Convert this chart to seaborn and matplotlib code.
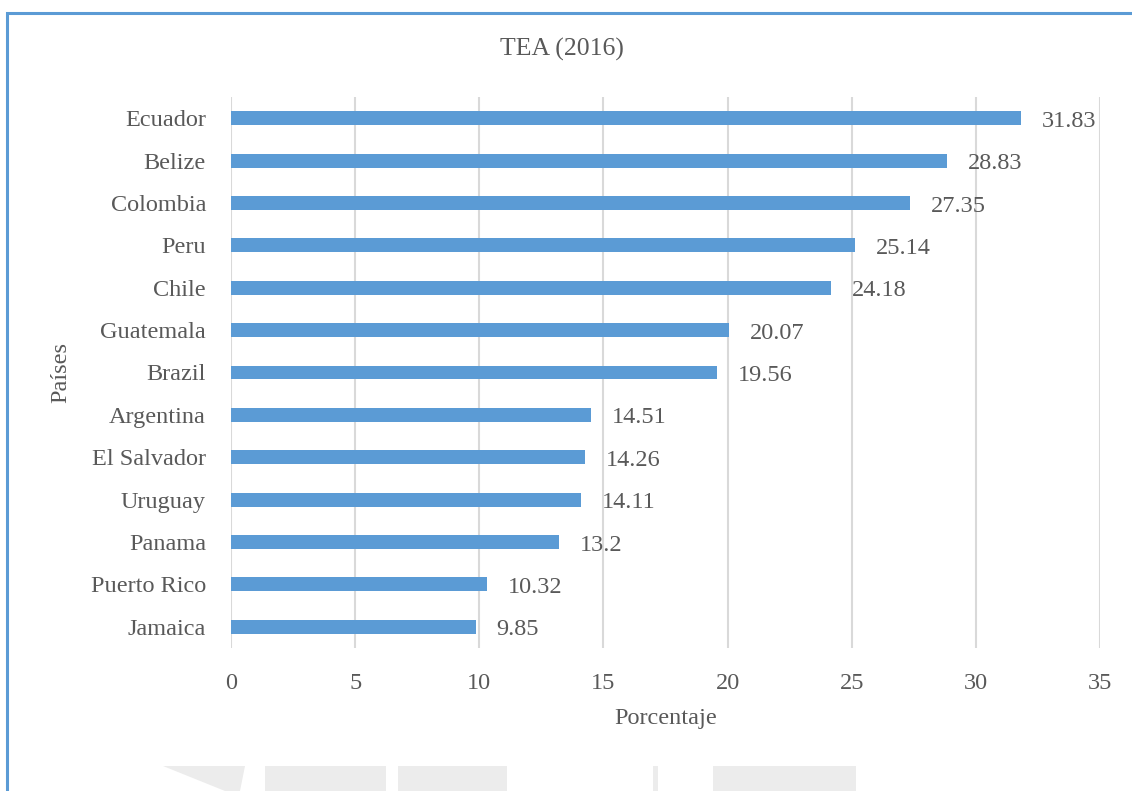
import matplotlib
matplotlib.use("Agg")
import matplotlib.pyplot as plt
import seaborn as sns
import pandas as pd
from matplotlib.patches import Rectangle, Polygon

countries = ["Ecuador", "Belize", "Colombia", "Peru", "Chile", "Guatemala", "Brazil",
             "Argentina", "El Salvador", "Uruguay", "Panama", "Puerto Rico", "Jamaica"]
values = [31.83, 28.83, 27.35, 25.14, 24.18, 20.07, 19.56, 14.51, 14.26, 14.11, 13.2, 10.32, 9.85]
value_labels = ["31.83", "28.83", "27.35", "25.14", "24.18", "20.07", "19.56",
                "14.51", "14.26", "14.11", "13.2", "10.32", "9.85"]
x_ticks = [0, 5, 10, 15, 20, 25, 30, 35]

sns.set_theme(style="white")
plt.rcParams['font.family'] = ['Liberation Serif', 'DejaVu Serif']

text_color = "#595959"
bar_color = "#5B9BD5"
grid_color = "#D9D9D9"
wm_color = "#ECECEC"

df = pd.DataFrame({"Países": countries, "Porcentaje": values})

W, H = 1132, 791
fig = plt.figure(figsize=(W / 100, H / 100), dpi=100)

# faint watermark fragments at the bottom of the page
def px_rect(x0, x1, y0, y1):
    return Rectangle((x0 / W, 1 - y1 / H), (x1 - x0) / W, (y1 - y0) / H,
                     transform=fig.transFigure, facecolor=wm_color, edgecolor="none", zorder=0)

fig.patches.append(Polygon([(163 / W, 1 - 766 / H), (245 / W, 1 - 766 / H),
                            (240 / W, 1 - 791 / H), (225 / W, 1 - 791 / H)],
                           closed=True, transform=fig.transFigure,
                           facecolor=wm_color, edgecolor="none", zorder=0))
fig.patches.append(px_rect(265, 386, 766, 791))
fig.patches.append(px_rect(398, 507, 766, 791))
fig.patches.append(px_rect(713, 856, 766, 791))
fig.patches.append(px_rect(653, 658, 766, 791))

ax = fig.add_axes([231 / W, 1 - 648 / H, (1100 - 231) / W, (648 - 97) / H])
ax.patch.set_alpha(0)

sns.barplot(data=df, y="Países", x="Porcentaje", order=countries, color=bar_color,
            saturation=1, width=0.33, orient="h", ax=ax, zorder=3, linewidth=0)

ax.set_xlim(0, 35)
ax.set_ylim(len(countries) - 0.5, -0.5)
ax.set_xticks(x_ticks)
ax.set_xticklabels([str(t) for t in x_ticks])
ax.xaxis.grid(True, color=grid_color, linewidth=1.5, zorder=0)
ax.yaxis.grid(False)
for s in ax.spines.values():
    s.set_visible(False)
ax.tick_params(axis="both", length=0, labelsize=17.5, labelcolor=text_color)
ax.tick_params(axis="x", pad=18)
ax.tick_params(axis="y", pad=18)

for p, lab in zip(ax.patches, value_labels):
    w = p.get_width()
    yc = p.get_y() + p.get_height() / 2
    ax.annotate(lab, xy=(w, yc), xytext=(15, -2.2), textcoords="offset points",
                ha="left", va="center", fontsize=17.5, color=text_color)

ax.set_xlabel("Porcentaje", fontsize=17.5, color=text_color, labelpad=10)
ax.set_ylabel("Países", fontsize=17.5, color=text_color, labelpad=14)
fig.text(562 / W, 1 - 49 / H, "TEA (2016)", ha="center", va="center",
         fontsize=18.5, color=text_color)

fig.patches.append(Rectangle((6.5 / W, -0.1), 1.2, 1 - 13 / H + 0.1,
                             transform=fig.transFigure, fill=False,
                             edgecolor=bar_color, linewidth=2.2))

fig.savefig("out.png", dpi=100)
